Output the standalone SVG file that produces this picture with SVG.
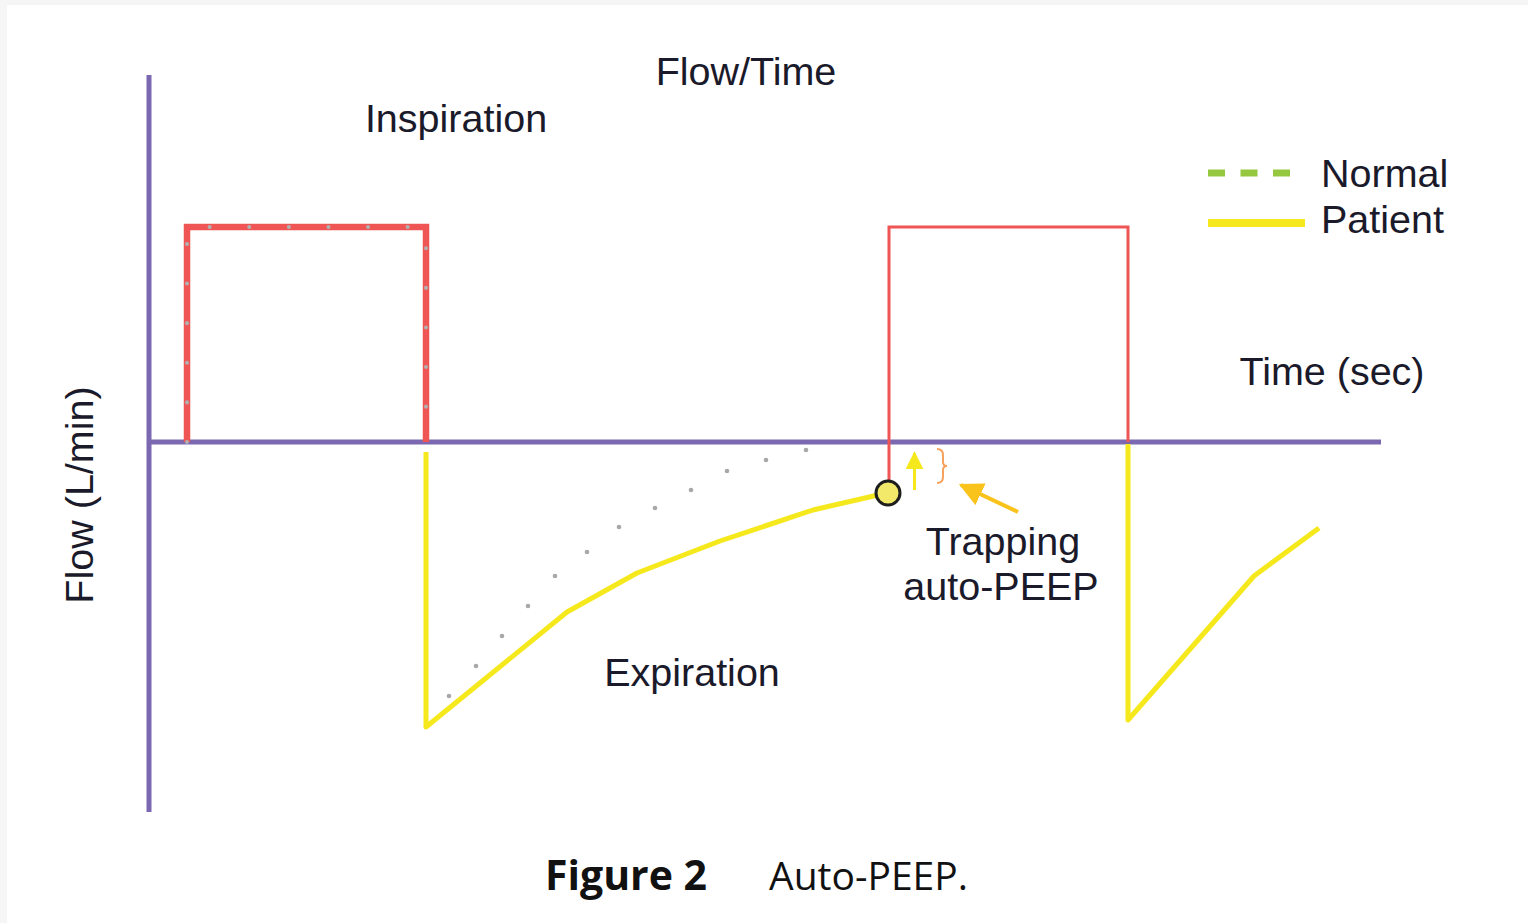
<svg xmlns="http://www.w3.org/2000/svg" width="1528" height="923" viewBox="0 0 1528 923">
<style>
.lbl{font-family:"Liberation Sans",Arial,sans-serif;font-size:39.5px;fill:#1a1a2a}
.cap{font-family:"Open Sans","Noto Sans",sans-serif;font-size:39px;fill:#111}
.capb{font-family:"Open Sans","Noto Sans",sans-serif;font-size:41px;font-weight:bold;fill:#111}
.axis{stroke:#7b68b1;stroke-width:5;fill:none}
.red{stroke:#f05556;fill:none}
.yel{stroke:#f5e91d;stroke-width:5;fill:none;stroke-linejoin:round}
.gdot{fill:#a8a8a8}
</style>
<defs>
<marker id="ahS" viewBox="0 0 10 10" refX="9" refY="5" markerWidth="6" markerHeight="6" orient="auto" markerUnits="strokeWidth"><path d="M0,0 L10,5 L0,10 z" fill="#f5e91d"/></marker>
<marker id="ahG" viewBox="0 0 10 10" refX="9" refY="5" markerWidth="6" markerHeight="6" orient="auto" markerUnits="strokeWidth"><path d="M0,0 L10,5 L0,10 z" fill="#f9c31b"/></marker>
</defs>
<rect width="1528" height="923" fill="#ffffff"/>
<rect x="0" y="0" width="1528" height="5" fill="#f5f5f5"/>
<rect x="0" y="0" width="7" height="923" fill="#f6f6f6"/>

<g id="axes">
<line class="axis" x1="149" y1="75" x2="149" y2="812"/>
<line class="axis" x1="147" y1="442" x2="1381" y2="442"/>
</g>

<g id="breath1-inspiration">
<path class="red" stroke-width="6.5" d="M187,442 V227 H426 V442"/>
<path d="M187,442 V227 H426 V442" fill="none" stroke="#b0b0b0" stroke-width="4" stroke-linecap="round" stroke-dasharray="0.1 39.5"/>
</g>

<g id="breath2-inspiration">
<path class="red" stroke-width="3" d="M889,482 V227 H1128 V442"/>
</g>

<g id="normal-expiration">
<circle class="gdot" cx="449" cy="696" r="2.3"/>
<circle class="gdot" cx="476" cy="666" r="2.3"/>
<circle class="gdot" cx="502" cy="636" r="2.3"/>
<circle class="gdot" cx="528" cy="606" r="2.3"/>
<circle class="gdot" cx="555" cy="576" r="2.3"/>
<circle class="gdot" cx="587" cy="552" r="2.3"/>
<circle class="gdot" cx="619" cy="527" r="2.3"/>
<circle class="gdot" cx="655" cy="508" r="2.3"/>
<circle class="gdot" cx="691" cy="490" r="2.3"/>
<circle class="gdot" cx="727" cy="471" r="2.3"/>
<circle class="gdot" cx="766" cy="460" r="2.3"/>
<circle class="gdot" cx="806" cy="450" r="2.3"/>
</g>

<g id="patient-expiration1">
<path class="yel" d="M426,452 V727 L567,612 L637,573 L720,541 L813,510 L878,495"/>
<circle cx="888" cy="493" r="12" fill="#f2e86a" stroke="#1e1e1e" stroke-width="3"/>
</g>

<g id="patient-expiration2">
<path class="yel" d="M1128,444 V720 L1254,576 L1319,528"/>
</g>

<g id="connectors">
<line x1="914.5" y1="490" x2="914.5" y2="453" stroke="#f5e91d" stroke-width="3" marker-end="url(#ahS)"/>
<path d="M937,449 Q943,449 943,455 V462 Q943,466 947,466 Q943,466 943,470 V477 Q943,483 937,483" fill="none" stroke="#f5a25e" stroke-width="2"/>
<line x1="1018" y1="512" x2="961" y2="485" stroke="#f9c31b" stroke-width="4" marker-end="url(#ahG)"/>
</g>

<g id="legend">
<line x1="1208" y1="173" x2="1291" y2="173" stroke="#95c83e" stroke-width="7" stroke-dasharray="17 15.5"/>
<line x1="1208" y1="223" x2="1305" y2="223" stroke="#f5e91d" stroke-width="8"/>
<text class="lbl" x="1321" y="187">Normal</text>
<text class="lbl" x="1321" y="233">Patient</text>
</g>

<g id="labels">
<text class="lbl" x="746" y="85" text-anchor="middle">Flow/Time</text>
<text class="lbl" x="456" y="132" text-anchor="middle">Inspiration</text>
<text class="lbl" x="1332" y="385" text-anchor="middle">Time (sec)</text>
<text class="lbl" x="1003" y="555" text-anchor="middle">Trapping</text>
<text class="lbl" x="1001" y="600" text-anchor="middle">auto-PEEP</text>
<text class="lbl" x="692" y="686" text-anchor="middle">Expiration</text>
<text class="lbl" x="0" y="0" text-anchor="middle" transform="translate(93,495) rotate(-90)">Flow (L/min)</text>
</g>

<g id="caption">
<text class="capb" x="545" y="890">Figure 2</text>
<text class="cap" x="769" y="890">Auto-PEEP.</text>
</g>
</svg>
